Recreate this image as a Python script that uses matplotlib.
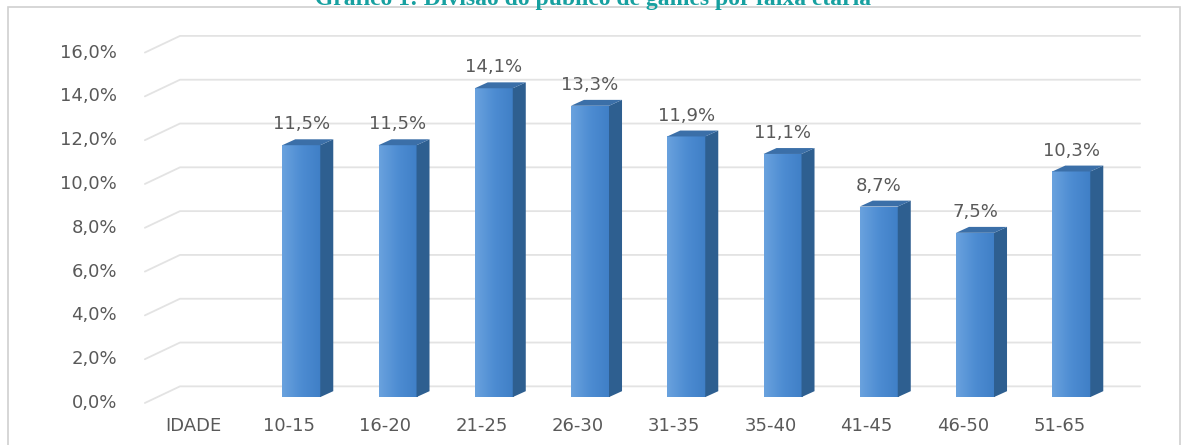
import numpy as np
import matplotlib.pyplot as plt
from matplotlib.patches import Rectangle, Polygon
from matplotlib.colors import LinearSegmentedColormap

categorias = ['IDADE', '10-15', '16-20', '21-25', '26-30', '31-35', '35-40', '41-45', '46-50', '51-65']
valores = [None, 11.5, 11.5, 14.1, 13.3, 11.9, 11.1, 8.7, 7.5, 10.3]
rotulos = ['', '11,5%', '11,5%', '14,1%', '13,3%', '11,9%', '11,1%', '8,7%', '7,5%', '10,3%']
yticks = [0, 2, 4, 6, 8, 10, 12, 14, 16]
titulo = 'Gráfico 1: Divisão do público de games por faixa etária'

cinza = '#595959'

fig = plt.figure(figsize=(11.86, 4.45), dpi=100)
ax = fig.add_axes([0, 0, 1, 1])
ax.axis('off')

# moldura
fig.patches.append(Rectangle((8 / 1186, -0.01), 1172 / 1186, 1 - 7 / 445 + 0.01,
                             transform=fig.transFigure, fill=False,
                             edgecolor='#d0d0d0', lw=1.2))

# grade com perspectiva
dxg, dyg, xfim = 0.365, 0.76, 9.84
for v in yticks:
    ax.plot([-0.5, -0.5 + dxg, xfim], [v, v + dyg, v + dyg],
            color='#e3e3e3', lw=1.3, zorder=1, solid_capstyle='round')
    ax.text(-0.79, v, f'{v:.1f}%'.replace('.', ','), ha='right', va='center',
            fontsize=13, color=cinza)

# barras 3D
off, w, base = 0.125, 0.395, 0.27
sx, sy = 0.135, 0.27
grad = np.linspace(0, 1, 256).reshape(1, -1)
cmap = LinearSegmentedColormap.from_list('b', ['#6aa2de', '#4d8cd2', '#3f7fc6'])
for i, (c, v) in enumerate(zip(categorias, valores)):
    ax.text(i, -1.05, c, ha='center', va='center', fontsize=13, color=cinza)
    if v is None:
        continue
    x0 = i + off - w / 2
    x1 = i + off + w / 2
    top = base + v
    frente = Rectangle((x0, base), w, v, facecolor='none', edgecolor='none', zorder=3)
    ax.add_patch(frente)
    im = ax.imshow(grad, extent=[x0, x1, base, top], cmap=cmap, aspect='auto', zorder=3)
    im.set_clip_path(frente)
    ax.add_patch(Polygon([(x1, base), (x1 + sx, base + sy), (x1 + sx, top + sy), (x1, top)],
                         closed=True, facecolor='#2e5f90', edgecolor='none', zorder=3))
    ax.add_patch(Polygon([(x0, top), (x1, top), (x1 + sx, top + sy), (x0 + sx, top + sy)],
                         closed=True, facecolor='#3b6fa8', edgecolor='none', zorder=3))
    ax.text(i + off, top + 0.95, rotulos[i], ha='center', va='center',
            fontsize=13, color=cinza, zorder=4)

ax.set_xlim(-2.005, 10.317)
ax.set_ylim(-1.918, 18.40)

fig.text(0.5, 1 - 5 / 445, titulo, ha='center', va='baseline', fontsize=17,
         fontweight='bold', family='Liberation Serif', color='#17a0a0')

fig.savefig('out.png', dpi=100)
